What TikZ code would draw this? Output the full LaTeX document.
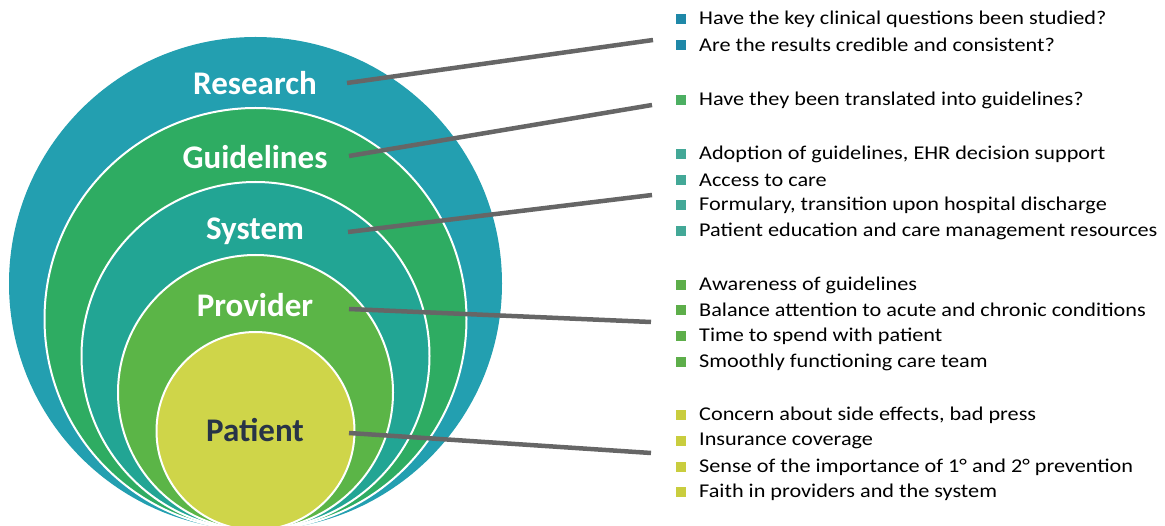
\documentclass[tikz,border=0pt]{standalone}
\usepackage{fontspec}
\setmainfont{Carlito}
\newfontfamily\itemfont{Carlito}[FakeStretch=1.14]
\definecolor{cResearch}{HTML}{239FB0}
\definecolor{cGuide}{HTML}{2EAC62}
\definecolor{cSystem}{HTML}{22A594}
\definecolor{cProvider}{HTML}{5BB547}
\definecolor{cPatient}{HTML}{CFD549}
\definecolor{bResearch}{HTML}{1F88A8}
\definecolor{bGuide}{HTML}{4CAF62}
\definecolor{bSystem}{HTML}{43A897}
\definecolor{bProvider}{HTML}{5DAE4A}
\definecolor{bPatient}{HTML}{C9CD3E}
\definecolor{patientText}{HTML}{283447}
\definecolor{lineGray}{HTML}{666666}
\begin{document}
\begin{tikzpicture}[x=1pt,y=-1pt,
  ring/.style={draw=white,line width=2pt},
  lvl/.style={font=\fontsize{33}{36}\selectfont\bfseries,text=white,inner sep=0pt},
  item/.style={font=\itemfont\fontsize{19.5}{22}\selectfont,anchor=west,inner sep=0pt,text=black},
  bullet/.style={minimum width=10pt,minimum height=10pt,inner sep=0pt,draw=none},
  leader/.style={draw=lineGray,line width=4.5pt}]
\useasboundingbox (0,0) rectangle (1165,526);
\begin{scope}
\clip (0,0) rectangle (1165,526);
\fill[cResearch] (255.5,283.5) circle[radius=246.5];
\fill[cGuide,ring] (255.5,319) circle[radius=211];
\fill[cSystem,ring] (255.5,356) circle[radius=174];
\fill[cProvider,ring] (255.5,392.5) circle[radius=137.5];
\fill[cPatient,ring] (255.5,431) circle[radius=99];
\end{scope}
\node[lvl] (research) at (255,83) {Research};
\node[lvl] (guidelines) at (255,157) {Guidelines};
\node[lvl] (system) at (255,231) {System};
\node[lvl] (provider) at (255,305) {Provider};
\node[lvl,text=patientText] (patient) at (255,430) {Patient};
\coordinate (aR) at (347,83);
\coordinate (eR) at (653,40);
\coordinate (aG) at (349,156);
\coordinate (eG) at (652,105);
\coordinate (aS) at (348,232);
\coordinate (eS) at (652,195);
\coordinate (aP) at (349,309);
\coordinate (eP) at (651,322);
\coordinate (aT) at (349,433);
\coordinate (eT) at (651,453);
\draw[leader] (aR) -- (eR);
\draw[leader] (aG) -- (eG);
\draw[leader] (aS) -- (eS);
\draw[leader] (aP) -- (eP);
\draw[leader] (aT) -- (eT);
% items
\foreach \y/\c/\t [count=\i] in {
  19/bResearch/Have the key clinical questions been studied?,
  45/bResearch/Are the results credible and consistent?,
  100/bGuide/Have they been translated into guidelines?,
  154/bSystem/{Adoption of guidelines, EHR decision support},
  180/bSystem/Access to care,
  205/bSystem/{Formulary, transition upon hospital discharge},
  231/bSystem/Patient education and care management resources,
  285/bProvider/Awareness of guidelines,
  310/bProvider/Balance attention to acute and chronic conditions,
  336/bProvider/Time to spend with patient,
  362/bProvider/Smoothly functioning care team,
  415/bPatient/{Concern about side effects, bad press},
  441/bPatient/Insurance coverage,
  467/bPatient/Sense of the importance of 1° and 2° prevention,
  492/bPatient/Faith in providers and the system}
{
  \node[bullet,fill=\c] (b\i) at (681,\y) {};
  \node[item] (t\i) at (699,\y) {\t};
}
\end{tikzpicture}
\end{document}
